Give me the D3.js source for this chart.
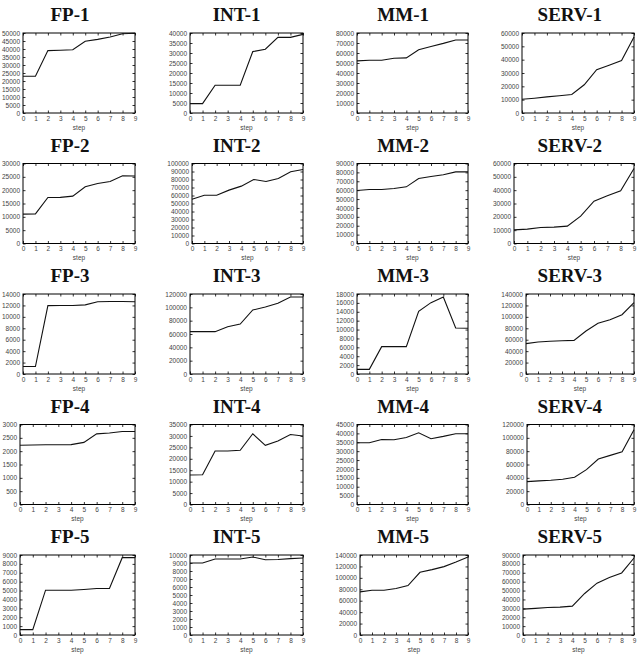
<!DOCTYPE html>
<html>
<head>
<meta charset="utf-8">
<script src="https://cdn.jsdelivr.net/npm/d3@7"></script>
<style>
  body { margin: 0; background: #fff; }
  svg { display: block; }
  .tick text { font-family: "Liberation Sans", Arial, sans-serif; font-size: 6.5px; fill: #444; }
</style>
</head>
<body>
<div id="chart"></div>
<script>
// 数据：每组 5 个基准，每个 10 个 step
const groups = ['FP', 'INT', 'MM', 'SERV'];
const steps = [0, 1, 2, 3, 4, 5, 6, 7, 8, 9];

const fpSeries = [
  [23000, 23000, 39000, 39200, 39500, 44800, 46000, 47500, 49500, 49800],
  [11000, 11100, 17250, 17300, 17750, 21250, 22500, 23250, 25400, 25300],
  [1300, 1300, 11960, 12000, 12000, 12100, 12650, 12700, 12700, 12650],
  [2220, 2230, 2240, 2240, 2245, 2330, 2650, 2680, 2740, 2740],
  [600, 600, 5040, 5040, 5040, 5120, 5230, 5230, 8700, 8700]
];
const intSeries = [
  [4700, 4700, 13900, 13900, 13900, 30700, 31900, 37800, 37800, 39300],
  [55400, 60400, 60400, 66700, 71700, 80000, 77500, 81300, 89600, 92500],
  [63500, 63500, 63500, 71000, 75000, 96000, 100500, 106000, 115500, 115500],
  [12900, 13000, 23400, 23400, 23700, 30950, 25900, 27800, 30600, 30000],
  [9000, 9000, 9500, 9500, 9500, 9750, 9400, 9440, 9550, 9630]
];
const mmSeries = [
  [52100, 52700, 52800, 54800, 55100, 63200, 66500, 69600, 73000, 73000],
  [59600, 60750, 60750, 61900, 63750, 73100, 75400, 77250, 80600, 80600],
  [1050, 1050, 6150, 6150, 6150, 14100, 16050, 17300, 10350, 10300],
  [34700, 34700, 36600, 36400, 37700, 40300, 37000, 38300, 39800, 39800],
  [75500, 78400, 78400, 81300, 86600, 109800, 114400, 119700, 127800, 136500]
];
const servSeries = [
  [10300, 11100, 12100, 12900, 13900, 21200, 32500, 35800, 39300, 57000],
  [10250, 10750, 12000, 12250, 13000, 20500, 31750, 35750, 39500, 56250],
  [53100, 56000, 57200, 58300, 58900, 75250, 88700, 95100, 103800, 124800],
  [34350, 35400, 36400, 37800, 41000, 52300, 68200, 73700, 79200, 112000],
  [29100, 29900, 31000, 31400, 32500, 46700, 58300, 64600, 69800, 86600]
];

// y 轴范围与刻度间隔（按列、按行）
const yMax = [
  [50000, 30000, 14000, 3000, 9000],
  [40000, 100000, 120000, 35000, 10000],
  [80000, 90000, 18000, 45000, 140000],
  [60000, 60000, 140000, 120000, 90000]
];
const yStep = [
  [5000, 5000, 2000, 500, 1000],
  [5000, 10000, 20000, 5000, 1000],
  [10000, 10000, 2000, 5000, 20000],
  [10000, 10000, 20000, 20000, 10000]
];

const allSeries = [fpSeries, intSeries, mmSeries, servSeries];

const width = 639, height = 654;
const colW = 166.6, rowH = 130.5;
// 每列绘图框右边界，左边界（受刻度文字宽度影响）
const boxRight = [135, 303, 468, 634];
const boxLeft = [
  [23, 23, 23, 20, 20],
  [190, 192, 190, 190, 190],
  [357, 357, 357, 357, 360],
  [522, 514, 526, 527, 523]
];

const svg = d3.select('#chart').append('svg')
  .attr('width', width).attr('height', height);

groups.forEach(function (g, c) {
  allSeries[c].forEach(function (vals, r) {
    const top = 33 + r * rowH, bottom = top + 80;
    const x = d3.scaleLinear().domain([0, 9]).range([boxLeft[c][r], boxRight[c]]);
    const y = d3.scaleLinear().domain([0, yMax[c][r]]).range([bottom, top]);
    const yTicks = d3.range(0, yMax[c][r] + 1, yStep[c][r]);

    const panel = svg.append('g').attr('class', 'panel');

    // 标题
    panel.append('text')
      .attr('x', 70 + c * colW)
      .attr('y', 21 + r * rowH)
      .attr('text-anchor', 'middle')
      .attr('font-family', '"Liberation Serif", "DejaVu Serif", serif')
      .attr('font-weight', 'bold')
      .attr('font-size', '19px')
      .attr('fill', '#111')
      .text(g + '-' + (r + 1));

    // 坐标轴（刻度朝内）
    const xb = panel.append('g').attr('transform', `translate(0,${bottom})`)
      .call(d3.axisBottom(x).tickValues(steps).tickSize(-2.5).tickPadding(3).tickFormat(d3.format('d')));
    const xt = panel.append('g').attr('transform', `translate(0,${top})`)
      .call(d3.axisTop(x).tickValues(steps).tickSize(-2.5).tickFormat(''));
    const yl = panel.append('g').attr('transform', `translate(${boxLeft[c][r]},0)`)
      .call(d3.axisLeft(y).tickValues(yTicks).tickSize(-2.5).tickPadding(3).tickFormat(d3.format('d')));
    const yr = panel.append('g').attr('transform', `translate(${boxRight[c]},0)`)
      .call(d3.axisRight(y).tickValues(yTicks).tickSize(-2.5).tickFormat(''));
    [xb, xt, yl, yr].forEach(function (a) {
      a.select('.domain').remove();
      a.selectAll('.tick line').attr('stroke', '#000').attr('stroke-width', 0.8);
    });

    // 外框
    panel.append('rect')
      .attr('x', boxLeft[c][r]).attr('y', top)
      .attr('width', boxRight[c] - boxLeft[c][r]).attr('height', bottom - top)
      .attr('fill', 'none').attr('stroke', '#000').attr('stroke-width', 1);

    // x 轴标题
    panel.append('text')
      .attr('x', (boxLeft[c][r] + boxRight[c]) / 2)
      .attr('y', bottom + 16.5)
      .attr('text-anchor', 'middle')
      .attr('font-family', '"Liberation Sans", Arial, sans-serif')
      .attr('font-size', '6.5px')
      .attr('fill', '#444')
      .text('step');

    // 折线
    const line = d3.line().x((d, i) => x(steps[i])).y(d => y(d));
    panel.append('path')
      .datum(vals)
      .attr('fill', 'none')
      .attr('stroke', '#111')
      .attr('stroke-width', 1.1)
      .attr('d', line);
  });
});
</script>
</body>
</html>
